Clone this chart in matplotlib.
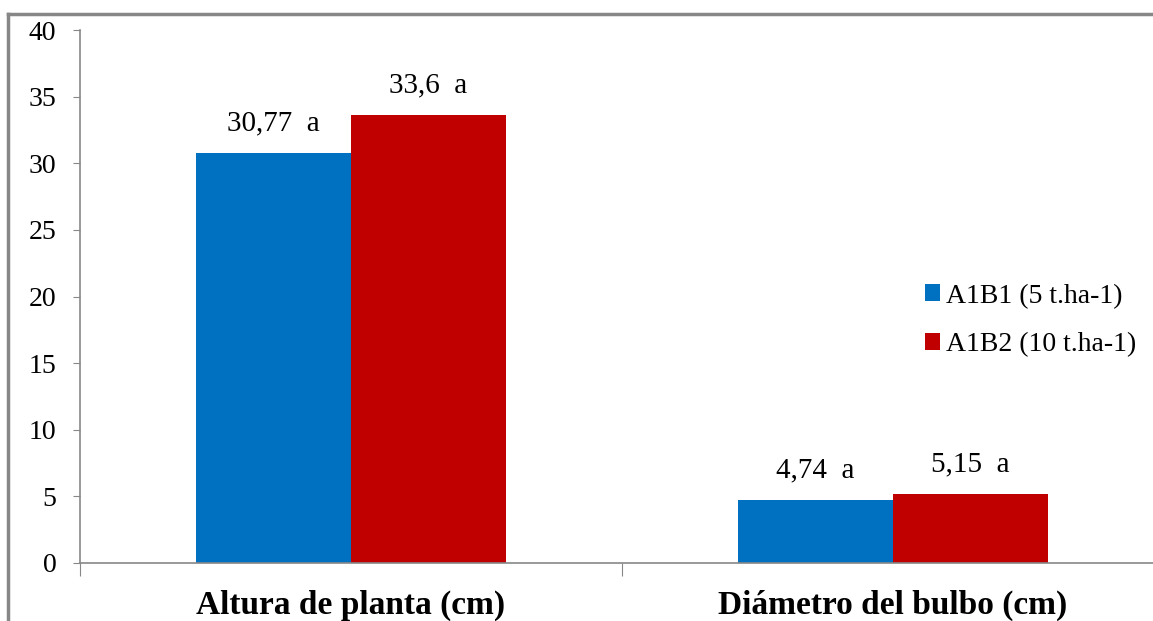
import matplotlib.pyplot as plt
from matplotlib.lines import Line2D
import numpy as np

plt.rcParams["font.family"] = ["Liberation Serif", "DejaVu Serif"]

categories = ["Altura de planta (cm)", "Diámetro del bulbo (cm)"]
series_names = ["A1B1 (5 t.ha-1)", "A1B2 (10 t.ha-1)"]
a1b1 = [30.77, 4.74]
a1b2 = [33.6, 5.15]
letters_a1b1 = ["a", "a"]
letters_a1b2 = ["a", "a"]
colors = ["#0070C0", "#C00000"]

fig = plt.figure(figsize=(11.53, 6.21), dpi=100)
ax = fig.add_axes([80 / 1153, 1 - 563 / 621, 1084 / 1153, 533 / 621])

# outer chart frame (only top and left edges fall inside the image)
fig.add_artist(Line2D([8 / 1153, 8 / 1153], [0, 1 - 14 / 621], transform=fig.transFigure,
                      color="#878787", lw=2.5))
fig.add_artist(Line2D([8 / 1153, 1], [1 - 14 / 621, 1 - 14 / 621], transform=fig.transFigure,
                      color="#878787", lw=2.5))

x = np.arange(len(categories))
width = 0.286

for offset, values, letters, name, color in [
    (-width / 2, a1b1, letters_a1b1, series_names[0], colors[0]),
    (width / 2, a1b2, letters_a1b2, series_names[1], colors[1]),
]:
    bars = ax.bar(x + offset, values, width, color=color, label=name)
    for bar, v, letter in zip(bars, values, letters):
        txt = f"{v:g}".replace(".", ",") + "  " + letter
        ax.annotate(txt, (bar.get_x() + bar.get_width() / 2, v), xytext=(0, 12),
                    textcoords="offset points", ha="center", va="bottom", fontsize=21)

ax.set_xlim(-0.5, 1.5)
ax.set_ylim(0, 40)
ax.set_yticks(np.arange(0, 41, 5))
ax.set_xticks([-0.5, 0.5, 1.5])
ax.set_xticklabels([])
ax.set_xticks(x, minor=True)
ax.set_xticklabels(categories, minor=True, fontsize=24, fontweight="bold")
ax.tick_params(axis="x", which="minor", length=0, pad=19)
ax.tick_params(axis="x", which="major", length=9, color="#878787", direction="out")
ax.tick_params(axis="y", length=5, color="#878787", labelsize=20, pad=12)

for side in ["top", "right"]:
    ax.spines[side].set_visible(False)
for side in ["left", "bottom"]:
    ax.spines[side].set_color("#878787")
    ax.spines[side].set_linewidth(1.2)

ax.legend(loc="center left", bbox_to_anchor=(820 / 1084, 0.455), frameon=False, fontsize=20,
          handlelength=0.55, handleheight=0.55, handletextpad=0.2, labelspacing=0.85)

fig.savefig("out.png", dpi=100)
